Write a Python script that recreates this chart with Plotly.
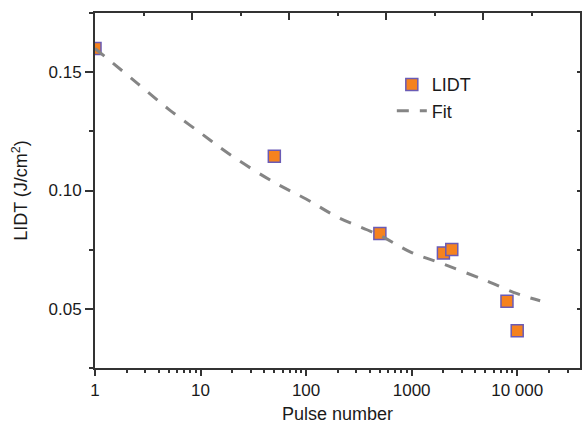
import plotly.graph_objects as go

# Measured laser-induced damage threshold vs. number of pulses
pulses = [1, 50, 500, 2000, 2400, 8000, 10000]
lidt = [0.160, 0.1145, 0.0818, 0.0736, 0.0751, 0.0532, 0.0407]

# Fitted curve values
fit_pulses = [1, 2, 3, 5, 10, 20, 50, 100, 200, 500, 1000, 2000, 5000, 10000, 16500]
fit_lidt = [0.160, 0.1490, 0.1425, 0.1343, 0.1243, 0.1145, 0.1034, 0.0964,
            0.0887, 0.0810, 0.0738, 0.0689, 0.0620, 0.0564, 0.0534]

x_tickvals = [1, 10, 100, 1000, 10000]
x_ticktext = ["1", "10", "100", "1000", "10 000"]
y_tickvals = [0.05, 0.10, 0.15]
y_ticktext = ["0.05", "0.10", "0.15"]

FONT = "Liberation Sans, Arial, Helvetica, sans-serif"
AXIS_COLOR = "#333333"
TEXT_COLOR = "#1a1a1a"

fig = go.Figure()

fig.add_trace(go.Scatter(
    x=pulses, y=lidt, mode="markers", name="LIDT",
    marker=dict(symbol="square", size=12, color="#F5821F",
                line=dict(color="#6A5BB5", width=1.5)),
))
fig.add_trace(go.Scatter(
    x=fit_pulses, y=fit_lidt, mode="lines", name="Fit",
    line=dict(color="#858585", width=3, dash="12px,11px", shape="spline"),
))
# empty trace so the top/right frame axes get drawn
fig.add_trace(go.Scatter(x=[], y=[], xaxis="x2", yaxis="y2",
                         showlegend=False, hoverinfo="skip"))

fig.update_layout(
    width=582, height=424,
    margin=dict(l=95, r=2, t=13, b=56),
    paper_bgcolor="white", plot_bgcolor="white",
    font=dict(family=FONT, color=TEXT_COLOR, size=17),
    showlegend=True,
    legend=dict(x=0.612, y=0.85, xanchor="left", yanchor="top",
                bgcolor="rgba(0,0,0,0)", font=dict(size=18),
                tracegroupgap=0),
    xaxis=dict(
        type="log", range=[0, 4.595],
        tickvals=x_tickvals, ticktext=x_ticktext,
        ticks="outside", ticklen=6, tickwidth=2, tickcolor=AXIS_COLOR,
        minor=dict(ticks="outside", ticklen=3, tickwidth=1.5,
                   tickcolor=AXIS_COLOR, dtick="D1", showgrid=False),
        showline=True, linewidth=2, linecolor=AXIS_COLOR,
        showgrid=False, zeroline=False,
        tickfont=dict(size=17),
        title=dict(text="Pulse number", font=dict(size=18), standoff=8),
    ),
    yaxis=dict(
        range=[0.025, 0.175],
        tickvals=y_tickvals, ticktext=y_ticktext,
        ticks="outside", ticklen=8, tickwidth=2, tickcolor=AXIS_COLOR,
        minor=dict(ticks="outside", ticklen=4, tickwidth=1.5,
                   tickcolor=AXIS_COLOR, tick0=0.025, dtick=0.025,
                   showgrid=False),
        showline=True, linewidth=2, linecolor=AXIS_COLOR,
        showgrid=False, zeroline=False,
        tickfont=dict(size=17),
        title=dict(text="LIDT (J/cm<sup>2</sup>)", font=dict(size=18), standoff=16),
    ),
    xaxis2=dict(
        overlaying="x", side="top", anchor="y2",
        range=[0, 5], dtick=1, tick0=0,
        ticks="inside", ticklen=7, tickwidth=2, tickcolor=AXIS_COLOR,
        minor=dict(ticks="inside", ticklen=3, tickwidth=1.5,
                   tickcolor=AXIS_COLOR, dtick=0.5, showgrid=False),
        showticklabels=False, showline=True, linewidth=2, linecolor=AXIS_COLOR,
        showgrid=False, zeroline=False,
    ),
    yaxis2=dict(
        overlaying="y", side="right", anchor="x2",
        range=[0.025, 0.175], tickvals=y_tickvals,
        ticks="inside", ticklen=3, tickwidth=1.5, tickcolor=AXIS_COLOR,
        minor=dict(ticks="inside", ticklen=3, tickwidth=1.5,
                   tickcolor=AXIS_COLOR, tick0=0.025, dtick=0.025,
                   showgrid=False),
        showticklabels=False, showline=True, linewidth=2, linecolor=AXIS_COLOR,
        showgrid=False, zeroline=False,
    ),
)

fig.write_html("out.html")
